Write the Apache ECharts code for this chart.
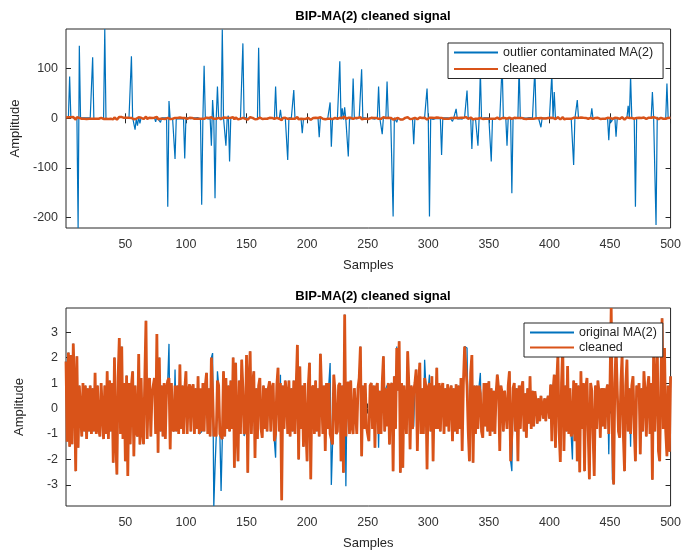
<!DOCTYPE html>
<html>
<head>
<meta charset="utf-8">
<script src="https://cdn.jsdelivr.net/npm/echarts@6/dist/echarts.min.js"></script>
<style>
  html, body { margin: 0; padding: 0; background: #fff; }
  #chart { width: 684px; height: 553px; }
</style>
</head>
<body>
<div id="chart"></div>
<script>
// cleaned signal (samples 1..500)
var cleaned = [
  1.85, -1.3, 2.2, -1.5, 2.1, -1.4, 2.55, 0.9, -2.46, 2.05,
  -1.54, 0.9, 0.94, -1.1, 1.0, -0.9, 0.9, -1.2, 0.8, -0.9,
  0.9, -1.0, 0.8, -0.9, 1.4, -1.0, 0.9, -0.8, -1.1, 1.0,
  1.07, -1.2, 0.9, -1.0, 1.46, -1.2, 1.1, -0.9, 1.0, -2.13,
  2.0, -1.1, -2.59, 1.2, 2.77, -1.0, 2.44, -1.2, 1.0, -2.07,
  1.3, -2.65, 1.0, -1.4, 0.9, 1.46, -1.87, 0.9, -0.9, -1.1,
  2.14, -1.41, 1.2, -0.9, -1.4, 1.1, 3.45, -1.2, 0.9, 1.2,
  -1.1, 0.6, 0.9, 1.2, -1.0, 2.93, -1.74, 2.0, -0.9, 0.9,
  -1.1, 1.0, -1.2, 0.8, 1.1, 1.2, -1.6, 1.0, -0.8, -0.9,
  0.9, -0.9, 0.9, -1.0, 1.73, -0.8, 0.9, -1.0, 0.7, 1.46,
  -1.0, 0.7, 0.95, -0.9, 0.8, 0.95, -1.0, 0.8, -0.8, 1.27,
  -1.0, 0.8, -0.9, 1.0, -0.9, 0.9, 1.4, -1.0, 0.8, -1.1,
  2.0, 0.7, -1.1, -0.8, -1.1, 1.1, 0.9, -1.0, -1.1, -1.2,
  1.46, -1.1, 1.2, -0.8, 0.9, -0.9, 1.1, -0.8, 2.0, -2.33,
  1.8, -0.8, -2.07, 1.1, -1.0, 1.92, 0.8, -1.0, -0.9, 2.1,
  -2.52, 1.1, 2.25, -1.0, 0.9, 1.46, -1.94, 0.8, -1.2, 0.9,
  1.2, -0.8, -1.15, 0.9, -0.8, 0.8, -0.9, 0.8, 1.07, -0.9,
  0.8, 1.0, -1.28, -1.0, 0.9, 1.6, -0.9, 1.0, -3.6, 0.9,
  -0.8, 1.1, 0.6, -1.0, 1.1, -1.1, 0.8, -0.9, 1.1, -1.0,
  0.9, 2.5, -2.0, 1.65, -0.8, 0.9, -1.5, 1.0, -0.8, -2.07,
  0.9, 1.8, -2.78, 0.8, 0.9, -1.0, 1.1, -0.9, 0.8, -1.1,
  2.15, 2.15, -1.0, 0.9, -1.67, 1.0, -0.8, 1.0, -1.0, -1.2,
  -1.41, 1.33, 0.7, -1.0, -0.9, 0.9, 1.0, -2.07, 0.9, -2.52,
  3.69, -1.1, 0.8, 1.05, -1.0, 1.1, -0.7, -1.0, 0.8, 0.8,
  -1.0, 0.8, 1.2, 2.44, -1.87, 0.9, -0.8, 1.0, -0.7, -1.0,
  -1.28, 0.9, 1.0, -0.8, 0.9, -1.54, 0.8, 1.0, -1.0, 0.7,
  -1.0, 1.0, 2.05, -0.9, 0.8, -0.7, 1.0, -1.41, 0.9, 1.0,
  -2.46, 1.27, -0.8, 2.38, 0.7, 2.64, -2.52, 1.0, -2.33, 0.9,
  0.9, -1.0, 2.25, 0.9, -1.6, 0.9, -0.8, 0.7, 1.0, 1.53,
  -1.67, 0.9, 1.8, -1.0, 0.8, -1.0, 1.2, 0.9, -2.39, 0.8,
  1.0, -0.9, 1.27, -2.07, 0.9, -0.8, 1.6, -0.8, 1.0, -0.9,
  0.8, 1.0, -1.0, 0.8, -0.7, 0.95, -0.9, 0.7, 0.9, -1.28,
  0.8, -0.9, 0.95, -1.0, 0.9, -0.8, 1.2, -1.67, 1.0, 2.44,
  2.5, 0.9, -0.9, -2.07, 1.4, 2.1, -2.13, 0.9, -1.0, 0.9,
  -0.8, 0.9, 0.6, -0.9, -1.15, 1.0, -0.7, 1.0, -0.9, 1.07,
  -1.08, 0.8, -0.9, 0.7, -1.0, 0.6, 1.33, 0.8, -1.67, 0.9,
  0.6, -0.9, 0.7, 0.7, -0.8, 0.9, 1.46, -2.07, -1.0, 0.8,
  1.0, -0.9, 0.8, -2.07, 0.9, -0.8, 0.8, 1.07, -0.9, 0.6,
  -1.15, 0.8, -0.6, 1.27, -0.8, 0.7, -0.7, 0.68, 0.3, -0.6,
  0.4, -0.5, 0.5, 0.55, -0.4, 0.4, -0.5, 0.3, 0.5, -0.4,
  0.94, -1.28, 0.7, 1.33, -1.54, 1.0, 2.1, -0.9, -2.1, 1.0,
  2.44, -1.67, 0.9, -0.9, 1.67, -1.0, 0.8, -1.1, -0.9, 1.1,
  -1.28, 1.0, -2.07, 0.9, -2.5, 1.46, -0.8, 1.0, -2.46, 0.8,
  1.2, -0.9, -2.78, 1.0, 0.7, -1.0, -2.65, 0.9, -0.8, 1.1,
  0.6, -1.15, 0.8, -0.7, 0.8, -0.8, 0.7, 0.94, -1.0, 0.9,
  3.95, -1.0, -2.98, 1.0, 2.5, 0.7, -0.9, -1.15, 1.0, 2.1,
  -1.0, -2.46, 0.9, 1.92, -0.9, 0.8, -1.0, 0.9, 1.27, -0.8,
  -2.07, 0.9, 0.6, 1.0, -1.8, 0.8, -0.9, 1.46, 0.6, -1.1,
  0.8, 1.27, -1.0, 1.0, -2.8, 2.25, -0.9, 0.9, 2.57, -1.67,
  -2.07, 1.0, 3.55, -0.8, 2.38, -0.9, -1.87, 0.9, -1.7, 1.27
];

// where the original MA(2) differs from the cleaned one: [sample, value]
var originalDiff = [
  [86, 2.54], [91, 1.53], [112, -0.95], [122, 2.18], [123, -3.83], [124, -2.33],
  [126, 1.46], [129, -3.24], [148, -1.08], [174, -1.93], [178, 1.33], [219, 1.79],
  [220, -3.0], [232, -3.05], [259, -1.54], [266, 0.75], [274, 2.44], [288, -0.7],
  [297, 1.92], [301, 1.33], [332, 2.38], [343, 1.4], [361, 0.94], [369, -2.46],
  [374, 0.35], [419, -2.0], [449, -1.8], [452, -2.78], [467, -1.5]
];

// outlier values in the contaminated signal: [sample, value]
var outliers = [
  [4, 84], [11, -221], [12, 146], [23, 123], [33, 180], [55, 125], [58, -23],
  [60, -15], [62, -10], [75, -7], [79, -8], [85, -178], [86, 35], [91, -82],
  [99, -81], [113, -174], [115, 106], [121, -55], [122, 37], [124, -161],
  [126, 64], [130, 179], [133, -55], [135, 5], [136, -87], [147, 151],
  [160, 142], [174, 64], [178, 17], [184, -84], [189, 57], [196, -30],
  [210, -38], [219, 32], [220, -57], [227, 115], [229, 20], [231, 22],
  [234, -77], [238, 80], [245, 99], [259, 64], [262, -32], [266, 74],
  [271, -198], [274, -8], [288, -52], [299, 60], [301, -198], [311, -74],
  [320, -6], [323, 19], [332, 56], [336, -62], [341, -55], [343, 95],
  [352, -87], [361, 110], [365, -55], [369, -151], [375, 105], [388, 100],
  [393, -18], [402, 90], [404, 53], [413, -5], [420, -94], [423, 37],
  [435, 20], [449, -44], [451, -8], [455, -37], [465, 25], [467, 85],
  [471, -178], [485, 53], [488, -215], [497, 70]
];

var xTicks = [50, 100, 150, 200, 250, 300, 350, 400, 450, 500];
var topYTicks = [-200, -100, 0, 100];
var bottomYTicks = [-3, -2, -1, 0, 1, 2, 3];

var samples = cleaned.map(function (v, i) { return i + 1; });
var original = cleaned.slice();
originalDiff.forEach(function (d) { original[d[0] - 1] = d[1]; });
var contaminated = original.slice();
outliers.forEach(function (d) { contaminated[d[0] - 1] = d[1]; });

function pts(arr) {
  return arr.map(function (v, i) { return [samples[i], v]; });
}

var FONT = "'Liberation Sans', Arial, Helvetica, sans-serif";
var AXIS = '#262626';
var BLUE = '#0072BD';
var ORANGE = '#D95319';

function xAx(grid, pos, withLabel) {
  return {
    type: 'value', gridIndex: grid, position: pos, min: 1, max: 500,
    name: withLabel ? 'Samples' : '', nameLocation: 'middle', nameGap: 31,
    nameTextStyle: { color: AXIS, fontSize: 13, fontFamily: FONT },
    axisLine: { show: false },
    axisTick: { show: true, inside: true, length: 5, customValues: xTicks, lineStyle: { color: AXIS } },
    axisLabel: { show: withLabel, customValues: xTicks, color: '#333', fontSize: 12.5, fontFamily: FONT, margin: 10 },
    splitLine: { show: false }
  };
}

function yAx(grid, pos, withLabel, min, max, ticks) {
  return {
    type: 'value', gridIndex: grid, position: pos, min: min, max: max,
    name: withLabel ? 'Amplitude' : '', nameLocation: 'middle', nameGap: 40,
    nameTextStyle: { color: AXIS, fontSize: 13, fontFamily: FONT },
    axisLine: { show: false },
    axisTick: { show: true, inside: true, length: 5, customValues: ticks, lineStyle: { color: AXIS } },
    axisLabel: { show: withLabel, customValues: ticks, color: '#333', fontSize: 12.5, fontFamily: FONT, margin: 8 },
    splitLine: { show: false }
  };
}

function legendBox(left, top, names, gap, padRight) {
  return {
    left: left, top: top, orient: 'vertical', align: 'left',
    data: names, itemWidth: 44, itemHeight: 14, itemGap: gap,
    padding: [3, padRight, 3, 5],
    itemStyle: { opacity: 0 },
    backgroundColor: '#fff', borderColor: AXIS, borderWidth: 1, borderRadius: 0,
    textStyle: { color: '#222', fontSize: 12.5, fontFamily: FONT },
    selectedMode: false
  };
}

var option = {
  animation: false,
  backgroundColor: '#fff',
  title: [
    { text: 'BIP-MA(2) cleaned signal', left: 368, top: 5, textAlign: 'center',
      textStyle: { fontSize: 13, fontWeight: 'bold', color: '#000', fontFamily: FONT } },
    { text: 'BIP-MA(2) cleaned signal', left: 368, top: 285, textAlign: 'center',
      textStyle: { fontSize: 13, fontWeight: 'bold', color: '#000', fontFamily: FONT } }
  ],
  grid: [
    { left: 66, right: 13, top: 29, height: 199, show: true, borderColor: AXIS, borderWidth: 1, backgroundColor: 'transparent' },
    { left: 66, right: 13, top: 308, height: 198, show: true, borderColor: AXIS, borderWidth: 1, backgroundColor: 'transparent' }
  ],
  xAxis: [xAx(0, 'bottom', true), xAx(0, 'top', false), xAx(1, 'bottom', true), xAx(1, 'top', false)],
  yAxis: [
    yAx(0, 'left', true, -221, 180, topYTicks), yAx(0, 'right', false, -221, 180, topYTicks),
    yAx(1, 'left', true, -3.83, 3.95, bottomYTicks), yAx(1, 'right', false, -3.83, 3.95, bottomYTicks)
  ],
  legend: [
    legendBox(448, 43, ['outlier contaminated MA(2)', 'cleaned'], 3.5, 10),
    legendBox(524, 323, ['original MA(2)', 'cleaned'], 2, 6)
  ],
  series: [
    { name: 'outlier contaminated MA(2)', type: 'line', xAxisIndex: 0, yAxisIndex: 0,
      data: pts(contaminated), symbol: 'none', showSymbol: false,
      lineStyle: { color: BLUE, width: 1.2 }, itemStyle: { color: BLUE } },
    { name: 'cleaned', type: 'line', xAxisIndex: 0, yAxisIndex: 0,
      data: pts(cleaned), symbol: 'none', showSymbol: false,
      lineStyle: { color: ORANGE, width: 2.5 }, itemStyle: { color: ORANGE } },
    { name: 'original MA(2)', type: 'line', xAxisIndex: 2, yAxisIndex: 2,
      data: pts(original), symbol: 'none', showSymbol: false,
      lineStyle: { color: BLUE, width: 1.3 }, itemStyle: { color: BLUE } },
    { name: 'cleaned', type: 'line', xAxisIndex: 2, yAxisIndex: 2,
      data: pts(cleaned), symbol: 'none', showSymbol: false,
      lineStyle: { color: ORANGE, width: 2.8 }, itemStyle: { color: ORANGE } }
  ]
};

var myChart = echarts.init(document.getElementById('chart'));
myChart.setOption(option);
window.addEventListener('resize', function () {
  myChart.resize();
});
</script>
</body>
</html>
